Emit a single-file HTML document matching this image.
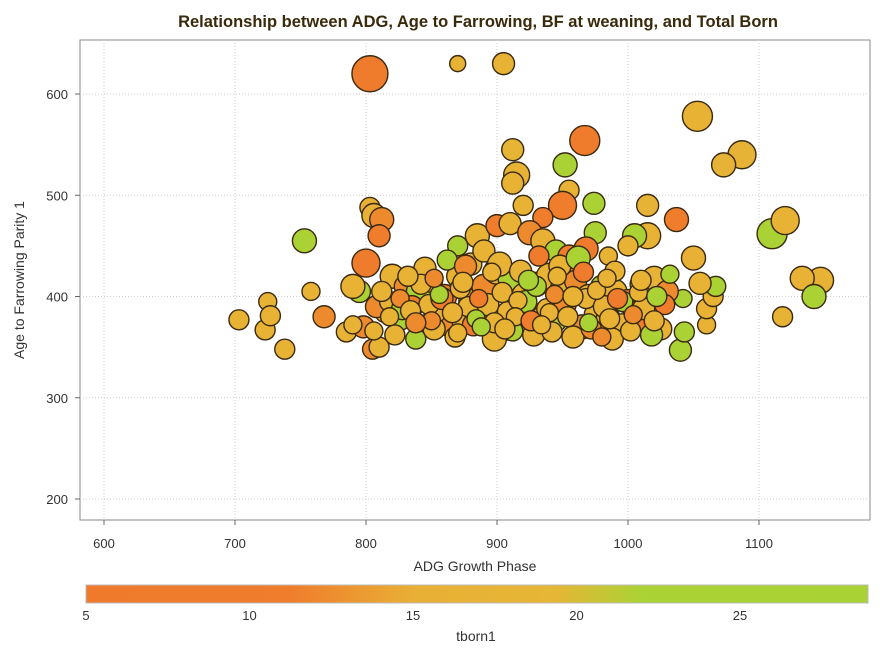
<!DOCTYPE html>
<html><head><meta charset="utf-8">
<style>
body{margin:0;background:#fff;font-family:"Liberation Sans",Arial,sans-serif;}
svg text{font-family:"Liberation Sans",Arial,sans-serif;}
</style></head>
<body>
<svg id="chart" width="880" height="654">
<defs>
<linearGradient id="cb" x1="0" x2="1" y1="0" y2="0">
<stop offset="0" stop-color="#ef7a2c"/>
<stop offset="0.26" stop-color="#ef7d2c"/>
<stop offset="0.42" stop-color="#e8b035"/>
<stop offset="0.6" stop-color="#e6b636"/>
<stop offset="0.71" stop-color="#abd235"/>
<stop offset="1" stop-color="#a9d234"/>
</linearGradient>
</defs>
<text x="478" y="27" text-anchor="middle" font-size="16.5" font-weight="bold" fill="#3a2a0c">Relationship between ADG, Age to Farrowing, BF at weaning, and Total Born</text>
<rect x="80" y="40" width="790" height="480" fill="#fff" stroke="#888" stroke-width="1"/>
<g id="grid"></g>
<g id="bubbles"></g>
<g id="axes"></g>
<text x="475" y="571" text-anchor="middle" font-size="14" fill="#333">ADG Growth Phase</text>
<text x="24" y="280" text-anchor="middle" font-size="14" fill="#333" transform="rotate(-90 24 280)">Age to Farrowing Parity 1</text>
<rect x="86" y="585" width="782" height="18" fill="url(#cb)" stroke="#bbb"/>
<g id="cbticks"></g>
<text x="476" y="641" text-anchor="middle" font-size="14" fill="#333">tborn1</text>
</svg>
<script>
const xTicks=[600,700,800,900,1000,1100];
const yTicks=[200,300,400,500,600];
const cbTicks=[5,10,15,20,25];
const adg=[803,870,905,967,1053,1087,1073,912,952,915,955,912,974,950,935,920,803,806,812,1037,1015,1110,1120,1147,1133,1142,1118,753,703,723,725,727,738,758,768,795,790,800,810,805,810,1040,1043,1060,1060,1065,1067,1050,1055,1042,1025,1015,1005,975,1000,985,968,885,880,870,890,900,910,925,935,945,955,960,
820,830,840,850,860,870,880,890,900,910,920,930,940,950,960,970,980,990,1000,1010,1020,1030,
815,825,835,845,855,865,875,895,905,915,925,935,945,965,975,985,995,1005,1015,1025,
785,798,822,838,852,868,882,898,912,928,942,958,972,988,1002,1018,
808,818,828,848,858,878,893,908,922,938,952,968,982,996,1012,1028,
845,862,876,902,918,932,948,962,990,
812,826,842,856,872,886,904,916,930,944,958,976,992,1008,1022,
818,834,850,866,884,898,914,926,940,954,970,986,1004,1020,
832,852,874,896,924,946,966,984,1010,1032,
790,806,838,870,888,906,934,980];
const age=[620,630,630,554,578,540,530,545,530,520,505,512,492,490,478,490,488,480,476,476,490,462,475,416,418,400,380,455,377,367,395,381,348,405,380,405,410,433,460,348,350,347,365,372,388,400,410,438,413,398,410,460,460,463,450,440,447,460,432,450,445,470,472,463,455,445,440,430,
420,410,405,415,400,420,395,410,425,418,402,412,420,408,415,400,410,405,395,412,418,405,
385,378,390,372,382,370,375,380,368,385,372,380,375,370,382,378,372,385,376,368,
365,370,362,358,368,360,372,358,366,362,365,360,368,358,366,362,
390,395,388,392,398,390,392,385,395,388,392,398,390,395,388,392,
428,436,430,432,425,440,430,438,425,
405,398,412,402,408,398,404,396,410,402,400,406,398,404,400,
380,386,376,384,378,374,380,376,384,380,374,378,382,376,
420,418,414,424,416,420,424,418,416,422,
372,366,374,364,370,368,372,360];
const bf=[18,8,11,15,15,14,12,11,12,13,10,11,11,14,10,10,10,12,12,12,11,15,14,13,12,12,10,12,10,10,9,10,10,9,11,11,12,14,11,10,10,11,10,9,10,10,10,12,11,9,11,13,12,11,10,9,12,12,11,10,11,11,11,12,12,11,11,13,
12,11,12,11,12,11,12,12,13,12,11,12,13,12,11,12,11,12,12,11,12,11,
11,12,11,10,12,11,12,11,12,11,12,11,10,12,11,12,11,10,12,11,
10,11,10,10,11,10,11,12,10,11,10,11,10,11,10,11,
11,10,11,10,11,10,11,10,11,10,11,10,11,10,11,10,
11,10,11,12,11,10,11,12,10,
10,9,10,9,10,9,10,9,10,9,10,9,10,9,10,
9,10,9,10,9,10,9,10,9,10,9,10,9,10,
10,9,10,9,10,9,10,9,10,9,
9,9,10,9,9,10,9,9];
const tborn=[7,16,16,8,16,17,17,18,22,17,16,16,24,10,10,16,15,15,12,10,17,24,16,16,16,22,16,24,16,16,16,16,16,16,12,22,16,8,10,12,16,24,22,16,16,16,24,15,16,22,16,16,23,24,16,16,8,16,16,22,16,10,16,12,15,22,11,9,
16,12,22,16,9,16,17,12,16,22,16,10,16,17,12,16,22,16,9,16,17,12,
16,22,10,16,17,12,16,22,16,9,16,16,22,12,16,17,16,22,10,16,
16,12,16,22,16,16,9,16,22,16,17,16,12,16,16,22,
12,16,22,16,9,16,17,16,22,16,12,16,16,22,16,10,
16,22,12,16,17,9,16,22,16,
16,12,16,22,16,10,16,16,22,12,16,16,9,16,22,
16,16,12,16,22,16,16,10,16,16,22,16,12,16,
16,12,16,16,22,16,9,16,16,22,
16,16,12,16,22,16,16,12];

const NS="http://www.w3.org/2000/svg";
const X0=80,X1=870,Y0=40,Y1=520;
const xs=v=>104+(v-600)*1.31;
const ys=v=>499-(v-200)*1.0125;
const cs=v=>86+(v-5)*32.7;
function mk(tag,attrs,parent){const e=document.createElementNS(NS,tag);for(const k in attrs)e.setAttribute(k,attrs[k]);parent.appendChild(e);return e;}
const stops=[[5,[239,122,44]],[11,[239,125,44]],[15,[232,176,53]],[19,[230,182,54]],[22,[171,210,53]],[30,[169,210,52]]];
function col(t){for(let i=0;i<stops.length-1;i++){const a=stops[i],b=stops[i+1];if(t<=b[0]){const f=Math.max(0,(t-a[0])/(b[0]-a[0]));return 'rgb('+a[1].map((c,j)=>Math.round(c+(b[1][j]-c)*f)).join(',')+')';}}return 'rgb(169,210,52)';}
const grid=document.getElementById('grid'),axes=document.getElementById('axes'),bub=document.getElementById('bubbles'),cbt=document.getElementById('cbticks');
xTicks.forEach(t=>{
 const l=mk('line',{x1:xs(t),x2:xs(t),y1:Y0,y2:Y1,stroke:'#ccc','stroke-dasharray':'1,2'},grid);
 
 
 const k=mk('line',{x1:xs(t),x2:xs(t),y1:Y1,y2:Y1+5,stroke:'#666'},axes);
 
 
 const tx=mk('text',{x:xs(t),y:548,'text-anchor':'middle','font-size':13,fill:'#333'},axes);tx.textContent=t;
 
 
});
yTicks.forEach(t=>{
 const l=mk('line',{x1:X0,x2:X1,y1:ys(t),y2:ys(t),stroke:'#ccc','stroke-dasharray':'1,2'},grid);
 
 
 const k=mk('line',{x1:X0-5,x2:X0,y1:ys(t),y2:ys(t),stroke:'#666'},axes);
 
 
 const tx=mk('text',{x:68,y:ys(t)+5,'text-anchor':'end','font-size':13,fill:'#333'},axes);tx.textContent=t;
 
 
});
adg.forEach((a,i)=>{
 const c=mk('circle',{cx:xs(a),cy:ys(age[i]),r:bf[i],fill:col(tborn[i]),stroke:'#3a2a10','stroke-width':1.4},bub);
 
 
});
cbTicks.forEach(t=>{
 const tx=mk('text',{x:cs(t),y:620,'text-anchor':'middle','font-size':13,fill:'#333'},cbt);tx.textContent=t;
 
 
});
</script>
</body></html>
